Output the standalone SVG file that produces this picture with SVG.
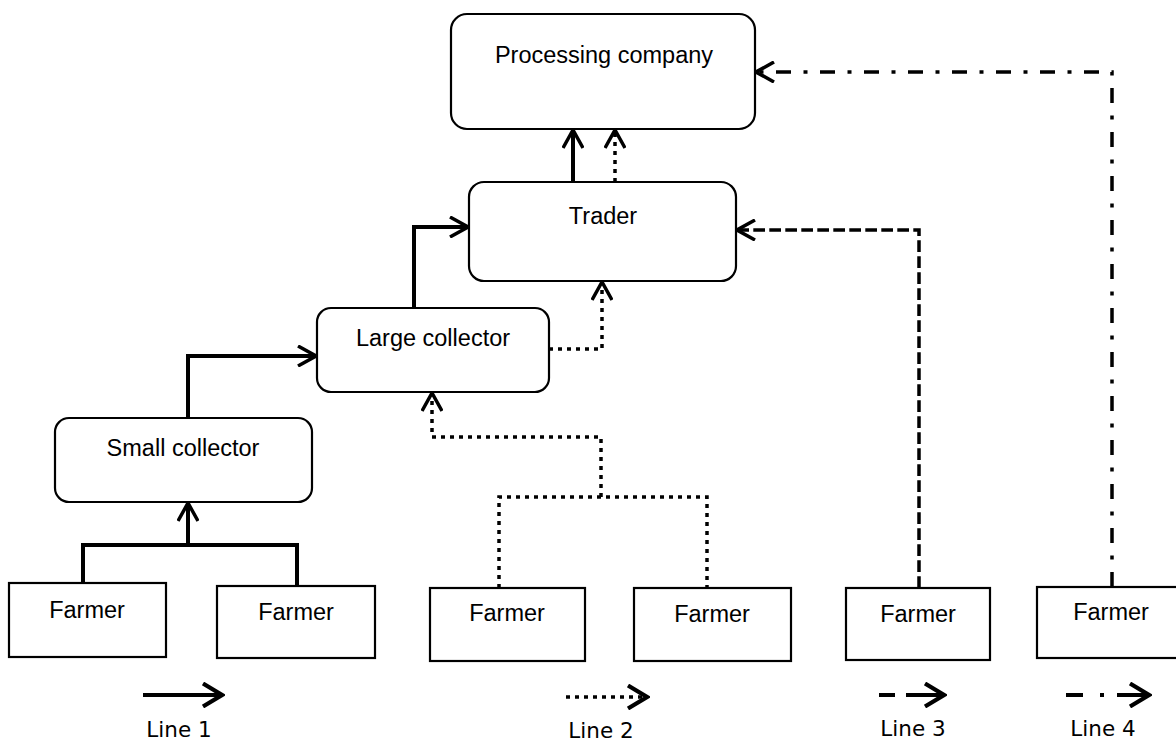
<svg xmlns="http://www.w3.org/2000/svg" width="1176" height="743" viewBox="0 0 1176 743">
<style>
.box{fill:#fff;stroke:#000;stroke-width:2.2}
.lbl{font-family:"Liberation Sans",Arial,sans-serif;font-size:23.5px;fill:#000;text-anchor:middle}
.leg{font-family:"DejaVu Sans",Verdana,sans-serif;font-size:21.5px;fill:#000;text-anchor:middle}
.c{fill:none;stroke:#000;stroke-width:4;stroke-linejoin:miter;stroke-linecap:butt}
.l2{stroke-width:3.5;stroke-dasharray:4 5}
.l3{stroke-width:3.5;stroke-dasharray:11.7 4.3}
.l4{stroke-width:3.5;stroke-dasharray:15 12.5 4 12.5}
.g3{stroke-width:4;stroke-dasharray:16 11 60}
.g4{stroke-width:4;stroke-dasharray:17 17 4 13 60}
.a{marker-end:url(#arr)}
.la{marker-end:url(#larr)}
</style>
<defs>
<marker id="arr" viewBox="0 0 22 22" refX="20" refY="11" markerWidth="22" markerHeight="22" markerUnits="userSpaceOnUse" orient="auto">
<path d="M2,1 L20,11 L2,21" fill="none" stroke="#000" stroke-width="3.5" stroke-dasharray="none"/>
</marker>
<marker id="larr" viewBox="0 0 24 26" refX="21" refY="13" markerWidth="24" markerHeight="26" markerUnits="userSpaceOnUse" orient="auto">
<path d="M2,1.5 L21,13 L2,24.5" fill="none" stroke="#000" stroke-width="4.2" stroke-dasharray="none"/>
</marker>
</defs>
<rect width="1176" height="743" fill="#fff"/>

<g id="processing">
<rect class="box" x="451" y="14" width="304" height="115" rx="16"/>
<text class="lbl" x="604" y="63">Processing company</text>
</g>
<g id="trader">
<rect class="box" x="469" y="182" width="267" height="99" rx="15"/>
<text class="lbl" x="603" y="224">Trader</text>
</g>
<g id="large-collector">
<rect class="box" x="317" y="308" width="232" height="84" rx="14"/>
<text class="lbl" x="433" y="346">Large collector</text>
</g>
<g id="small-collector">
<rect class="box" x="55" y="418" width="257" height="84" rx="14"/>
<text class="lbl" x="183" y="456">Small collector</text>
</g>
<g id="farmer1">
<rect class="box" x="9" y="583" width="157" height="74"/>
<text class="lbl" x="87" y="618">Farmer</text>
</g>
<g id="farmer2">
<rect class="box" x="217" y="586" width="158" height="72"/>
<text class="lbl" x="296" y="620">Farmer</text>
</g>
<g id="farmer3">
<rect class="box" x="430" y="588" width="155" height="73"/>
<text class="lbl" x="507" y="621">Farmer</text>
</g>
<g id="farmer4">
<rect class="box" x="634" y="588" width="157" height="73"/>
<text class="lbl" x="712" y="622">Farmer</text>
</g>
<g id="farmer5">
<rect class="box" x="846" y="588" width="144" height="72"/>
<text class="lbl" x="918" y="622">Farmer</text>
</g>
<g id="farmer6">
<rect class="box" x="1037" y="587" width="150" height="71"/>
<text class="lbl" x="1111" y="620">Farmer</text>
</g>

<g id="connectors">
<path class="c" d="M83,583 V545 H297 V586"/>
<path class="c a" d="M188,545 V503"/>
<path class="c a" d="M188,418 V356 H316"/>
<path class="c a" d="M414,308 V227 H468"/>
<path class="c a" d="M573,182 V130"/>
<path class="c l2" d="M499,588 V497 H707 V588"/>
<path class="c l2 a" d="M601,497 V437 H432 V393"/>
<path class="c l2 a" d="M549,349 H602 V282"/>
<path class="c l2 a" d="M615,182 V130"/>
<path class="c l3 a" d="M919,588 V230 H737"/>
<path class="c l4 a" d="M1112,587 V72 H756"/>
</g>

<g id="legend">
<path class="c la" d="M143,695 H222"/>
<path class="c l2 la" d="M566,697 H647"/>
<path class="c g3 la" d="M879,695 H944"/>
<path class="c g4 la" d="M1066,695 H1149"/>
<text class="leg" x="179" y="737">Line 1</text>
<text class="leg" x="601" y="738">Line 2</text>
<text class="leg" x="913" y="736">Line 3</text>
<text class="leg" x="1103" y="736">Line 4</text>
</g>
</svg>
